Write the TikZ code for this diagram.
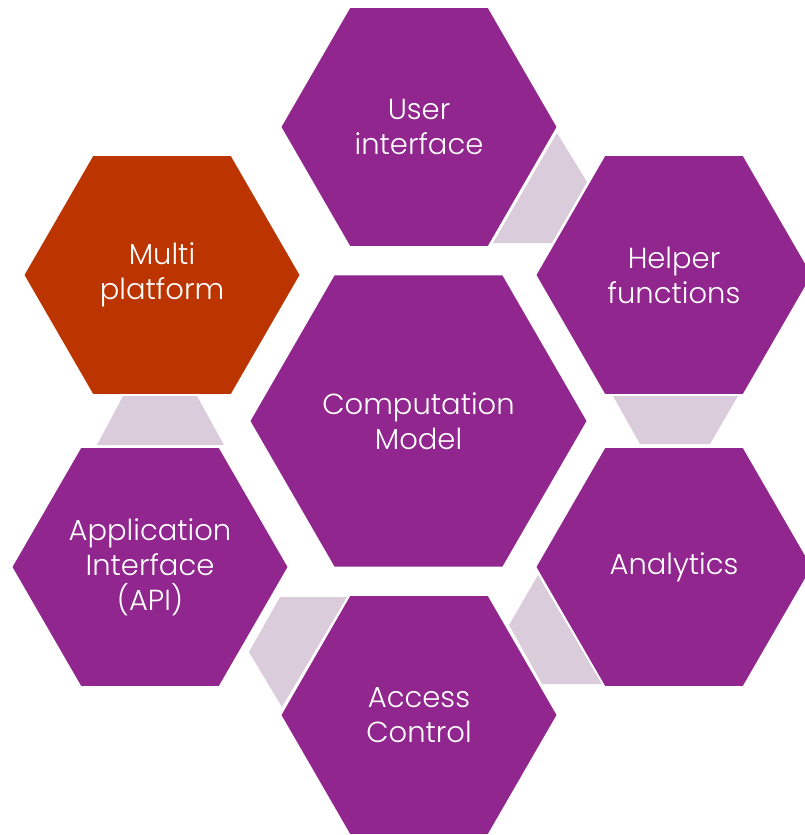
\documentclass[tikz,border=0pt]{standalone}
\usepackage{fontspec}
\setmainfont{Poppins Light}
\usetikzlibrary{shapes.geometric}
\definecolor{hexpurple}{HTML}{91268F}
\definecolor{hexorange}{HTML}{BC3500}
\definecolor{linkpink}{HTML}{DBCCDC}
\tikzset{
	hexcell/.style = {regular polygon, regular polygon sides=6,
		fill=hexpurple, draw=white, line width=1.5pt, inner sep=0pt, minimum size=277pt,
		text=white, align=center, font=\fontsize{29}{35}\selectfont},
	hexbig/.style = {hexcell, minimum size=338pt},
	link/.style = {fill=linkpink, draw=none}
}
\begin{document}
\begin{tikzpicture}[x=1pt, y=-1pt]
		\useasboundingbox (0, 0) rectangle (805, 835);
		% the links between the cells
		\fill[link] (557,133) -- (587,182) -- (552,243) -- (493,243) -- cycle;
		\fill[link] (613,396) -- (738,396) -- (710,444) -- (640,444) -- cycle;
		\fill[link] (538,575) -- (602,684) -- (542,684) -- (509,625) -- cycle;
		\fill[link] (280,597) -- (347,597) -- (282,707) -- (249,652) -- cycle;
		\fill[link] (123,396) -- (197,396) -- (224,445) -- (97,445) -- cycle;
		% the cells
		\node[hexbig] (model) at (418.5, 421) {Computation\\Model};
		\node[hexcell] (ui) at (419, 127) {User\\interface};
		\node[hexcell] (helper) at (674, 275) {Helper\\functions};
		\node[hexcell] (analytics) at (674, 567) {Analytics};
		\node[hexcell] (access) at (419, 715) {Access\\Control};
		\node[hexcell] (api) at (150, 567) {Application\\Interface\\(API)};
		\node[hexcell, fill=hexorange] (multi) at (162, 275) {Multi\\platform};
	\end{tikzpicture}
\end{document}
